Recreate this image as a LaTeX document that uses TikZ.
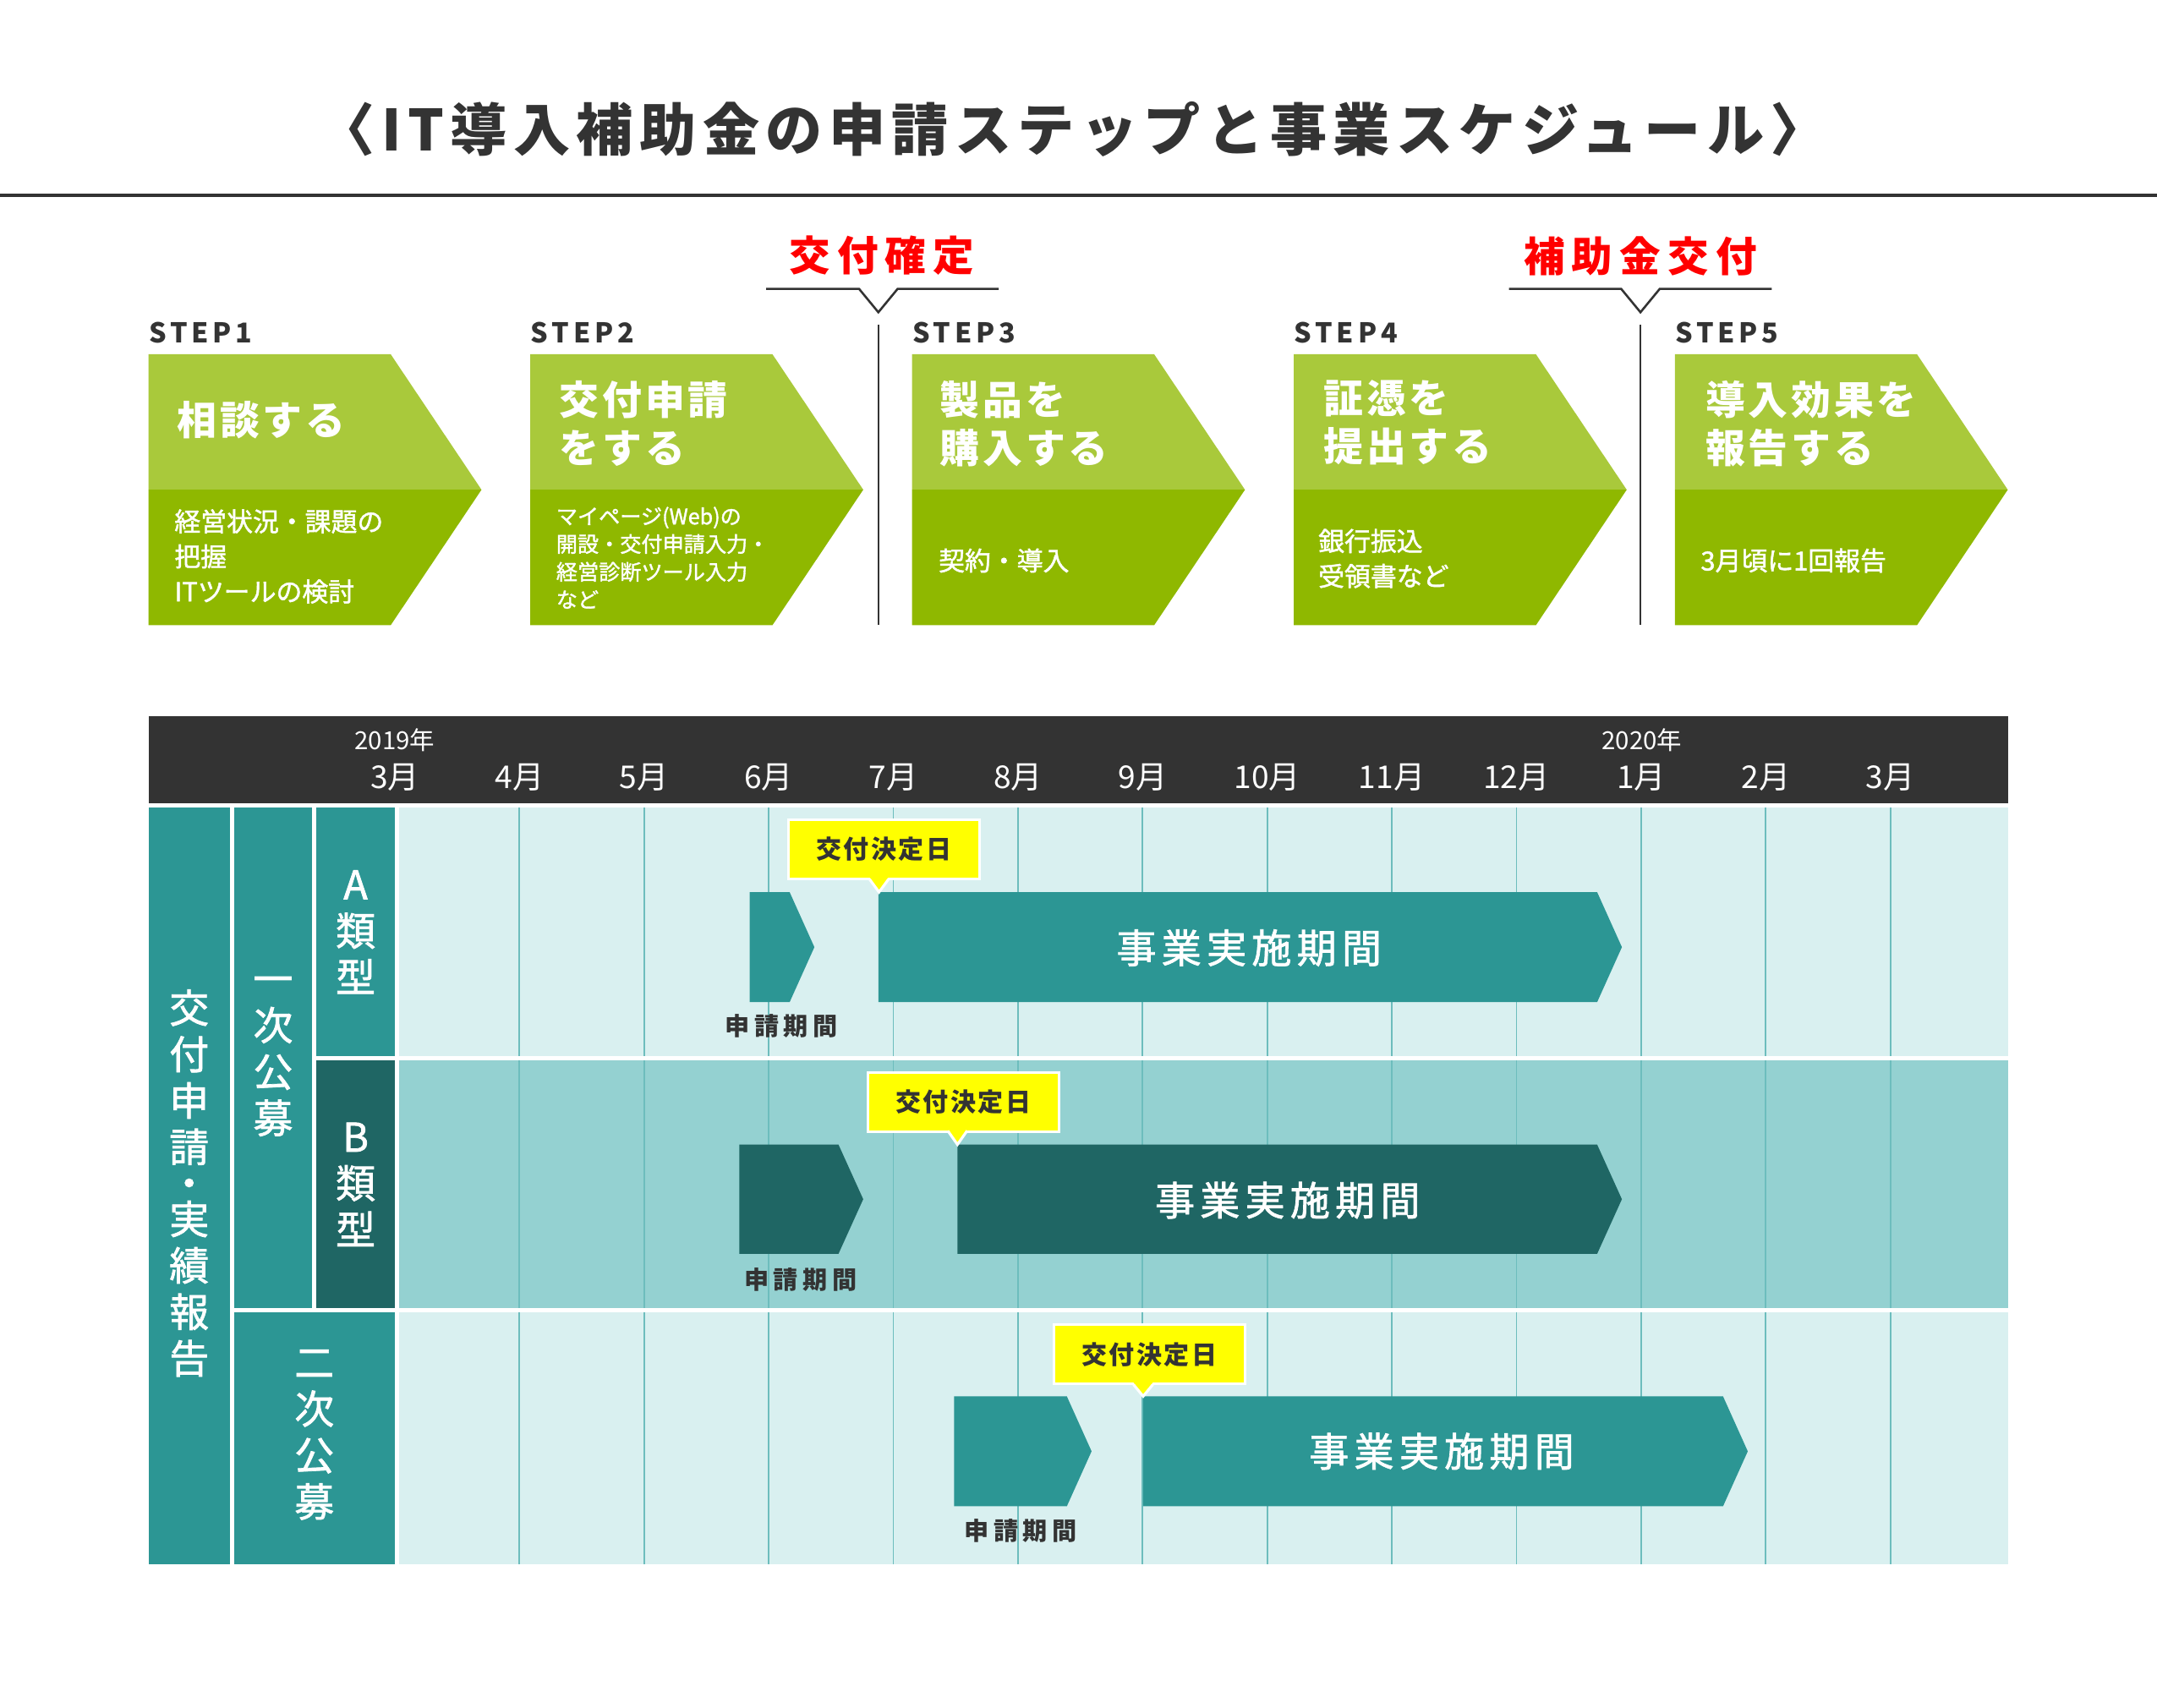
\documentclass[tikz,border=0pt]{standalone}
\usepackage{fontspec}
\setmainfont{Noto Sans CJK JP}
\usepackage{tikz}
\usetikzlibrary{positioning}

\definecolor{ink}{HTML}{333333}
\definecolor{leafhi}{HTML}{A9C93B}
\definecolor{leaflo}{HTML}{8FB800}
\definecolor{tealA}{HTML}{2C9694}
\definecolor{tealB}{HTML}{1F6664}
\definecolor{rowlight}{HTML}{D9F0F0}
\definecolor{rowmid}{HTML}{94D1D1}
\definecolor{gridteal}{HTML}{6DBDBD}
\definecolor{alertred}{HTML}{FF0000}
\definecolor{markyellow}{HTML}{FFFF00}

\newcommand{\spaced}[1]{\addfontfeature{LetterSpace=#1}}
\newcommand{\semibold}{\addfontfeature{FakeBold=1.5}}
% period bar: colour, left x, right x, top y, bottom y
\newcommand{\periodbar}[5]{%
  \fill[#1] (#2,#4) -- (#3,#4) -- ({#3+18},{(#4+#5)/2}) -- (#3,#5) -- (#2,#5) -- cycle;}

\tikzset{
  headline/.style={text=ink, inner sep=0pt,
    font=\fontsize{23.5}{28}\selectfont\bfseries\spaced{11}},
  milestone/.style={text=alertred, inner sep=0pt,
    font=\fontsize{17}{20}\selectfont\bfseries\spaced{17}},
  divider/.style={draw=ink, line width=0.9pt},
  steplabel/.style={anchor=west, inner sep=0pt, text=ink,
    font=\fontsize{11.3}{13}\selectfont\bfseries\spaced{15}},
  steptitle/.style={anchor=west, align=left, inner sep=0pt, text=white,
    font=\fontsize{16.4}{19.9}\selectfont\bfseries\spaced{8}},
  stepnote/.style={anchor=west, align=left, inner sep=0pt, text=white,
    font=\fontsize{10.8}{14.5}\selectfont\semibold},
  stepnotesmall/.style={anchor=west, align=left, inner sep=0pt, text=white,
    font=\fontsize{8.8}{11.5}\selectfont\semibold},
  monthlabel/.style={text=white, inner sep=0pt, font=\fontsize{13}{14}\selectfont},
  yearlabel/.style={text=white, inner sep=0pt, font=\fontsize{10.3}{12}\selectfont},
  monthline/.style={draw=gridteal, line width=0.6pt},
  rowhead/.style={text=white, align=center, inner sep=0pt,
    font=\fontsize{16.4}{19.2}\selectfont\semibold},
  barlabel/.style={text=white, inner sep=0pt,
    font=\fontsize{16.5}{19}\selectfont\semibold\spaced{13}},
  periodlabel/.style={text=ink, inner sep=0pt,
    font=\fontsize{10.2}{12}\selectfont\bfseries\spaced{19}},
  callout/.style={fill=markyellow, draw=white, line width=1.1pt, text=ink,
    minimum width=2.78cm, minimum height=0.86cm, inner sep=0pt,
    font=\fontsize{10.5}{12}\selectfont\bfseries\spaced{8}},
}

\begin{document}
\begin{tikzpicture}[x=0.02cm, y=-0.02cm]
  \useasboundingbox (0,0) rectangle (1568,1241.6);

  % title
  \node[headline] (title) at (780,94) {〈IT導入補助金の申請ステップと事業スケジュール〉};
  \draw[ink, line width=1.3pt] (0,142) -- (1568,142);

  % milestones
  \node[milestone] (granted) at (641,186) {交付確定};
  \node[milestone] (paid) at (1192.5,186) {補助金交付};
  \draw[divider] (557,210) -- (624.5,210) -- (638.5,227) -- (652.5,210) -- (726,210);
  \draw[divider] (1097,210) -- (1178.5,210) -- (1192.5,227) -- (1206.5,210) -- (1288,210);
  \draw[divider] (638.5,236) -- (638.5,454.5);
  \draw[divider] (1192.5,236) -- (1192.5,454.5);

  % step arrows
  \foreach \x [count=\n] in {108,385.5,663,940.5,1217.5}{
    \fill[leafhi] (\x,257.5) -- ++(176,0) -- ++(66,98.5) -- (\x,356) -- cycle;
    \fill[leaflo] (\x,356) -- ++(242,0) -- ++(-66,98.5) -- (\x,454.5) -- cycle;
    \node[steplabel] (step\n) at (\x,241.6) {STEP\n};
  }

  % step texts
  \node[steptitle] (title1) at (128.5,305.5) {相談する};
  \node[steptitle] (title2) at (406.5,308) {交付申請\\をする};
  \node[steptitle] (title3) at (683,308) {製品を\\購入する};
  \node[steptitle] (title4) at (962,307) {証憑を\\提出する};
  \node[steptitle] (title5) at (1239.5,308) {導入効果を\\報告する};
  \node[stepnote] (note1) at (126.5,404.5) {経営状況・課題の\\把握\\ITツールの検討};
  \node[stepnotesmall] (note2) at (404,405.5) {マイページ(Web)の\\開設・交付申請入力・\\経営診断ツール入力\\など};
  \node[stepnote] (note3) at (682,407.5) {契約・導入};
  \node[stepnote] (note4) at (958,406) {銀行振込\\受領書など};
  \node[stepnote] (note5) at (1236,407.5) {3月頃に1回報告};

  % schedule header
  \fill[ink] (108,520.5) rectangle (1459.5,584);
  \node[yearlabel] (year2019) at (287,538) {2019年};
  \node[yearlabel] (year2020) at (1193.5,538) {2020年};
  \foreach \m [count=\i from 0] in {3,4,5,6,7,8,9,10,11,12,1,2,3}
    \node[monthlabel] (month\i) at ({287+90.6*\i},565) {\m{}月};

  % rows
  \fill[rowlight] (290,587) rectangle (1459.5,768);
  \fill[rowmid] (290,771) rectangle (1459.5,951);
  \fill[rowlight] (290,954) rectangle (1459.5,1137);
  \foreach \ya/\yb in {587/768,771/951,954/1137}
    \foreach \i in {1,...,12}
      \draw[monthline] ({287+90.6*\i},\ya) -- ({287+90.6*\i},\yb);

  % row heads
  \fill[tealA] (108,587) rectangle (167,1137);
  \fill[tealA] (170,587) rectangle (227,951);
  \fill[tealA] (230,587) rectangle (287,768);
  \fill[tealB] (230,771) rectangle (287,951);
  \fill[tealA] (170,954) rectangle (287,1137);
  \node[rowhead] (headall) at (137.5,860) {交\\付\\申\\請\\[-4.3pt]・\\[-4.3pt]実\\績\\報\\告};
  \node[rowhead] (headfirst) at (198.5,768) {一\\次\\公\\募};
  \node[rowhead] (headA) at (258.5,677.5) {A\\類\\型};
  \node[rowhead] (headB) at (258.5,861) {B\\類\\型};
  \node[rowhead] (headsecond) at (228.5,1043) {二\\次\\公\\募};

  % type A
  \periodbar{tealA}{545}{574}{648.5}{728.5}
  \periodbar{tealA}{638.5}{1161}{648.5}{728.5}
  \node[barlabel] (runA) at (908,689) {事業実施期間};
  \node[periodlabel] (applyA) at (568,746) {申請期間};
  \node[callout] (dateA) at (642.5,617.5) {交付決定日};

  % type B
  \periodbar{tealB}{537.5}{609.5}{832}{911.5}
  \periodbar{tealB}{696}{1161}{832}{911.5}
  \node[barlabel] (runB) at (936,872.5) {事業実施期間};
  \node[periodlabel] (applyB) at (582,930) {申請期間};
  \node[callout] (dateB) at (700.3,801) {交付決定日};

  % second call
  \periodbar{tealA}{693.5}{775.5}{1015}{1095}
  \periodbar{tealA}{831}{1252.5}{1015}{1095}
  \node[barlabel] (runC) at (1048,1055) {事業実施期間};
  \node[periodlabel] (applyC) at (742,1113) {申請期間};
  \node[callout] (dateC) at (835.5,984.5) {交付決定日};

  % callout pointers
  \foreach \px/\py/\pz in {639/639/648.5,696/822/832,831/1006.5/1015}{
    \fill[markyellow] ({\px-7},{\py-1.5}) -- (\px,\pz) -- ({\px+7},{\py-1.5}) -- cycle;
    \draw[white, line width=1.1pt] ({\px-7},\py) -- (\px,\pz) -- ({\px+7},\py);
  }
\end{tikzpicture}
\end{document}
